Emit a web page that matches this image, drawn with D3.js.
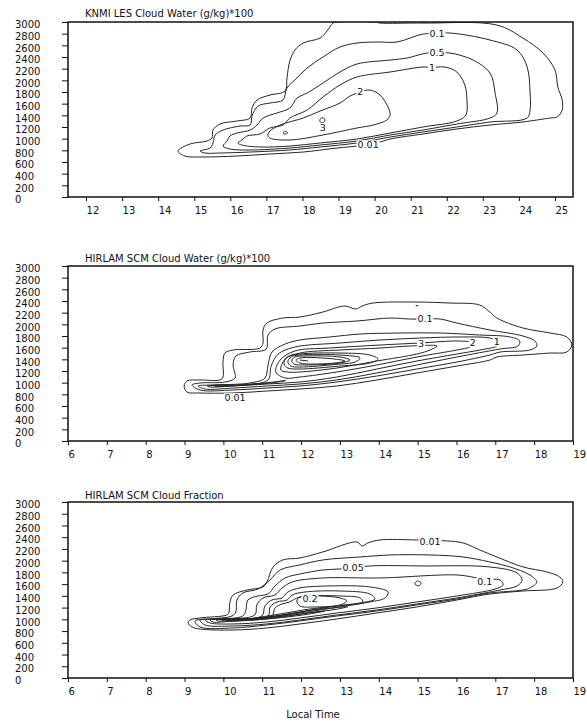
<!DOCTYPE html>
<html>
<head>
<meta charset="utf-8">
<script src="https://cdn.jsdelivr.net/npm/d3@7"></script>
<style>
body { margin: 0; background: #fff; }
svg { display: block; }
text { font-family: "DejaVu Sans", sans-serif; fill: #111; }
</style>
</head>
<body>
<svg id="chart" width="587" height="722"></svg>
<script>
// ---- tick labels ----
var y_ticks = [0, 200, 400, 600, 800, 1000, 1200, 1400, 1600, 1800, 2000, 2200, 2400, 2600, 2800, 3000];
var x_ticks_les = [12, 13, 14, 15, 16, 17, 18, 19, 20, 21, 22, 23, 24, 25];
var x_ticks_scm = [6, 7, 8, 9, 10, 11, 12, 13, 14, 15, 16, 17, 18, 19];
var titles = ["KNMI LES Cloud Water (g/kg)*100", "HIRLAM SCM Cloud Water (g/kg)*100", "HIRLAM SCM Cloud Fraction"];

// ---- KNMI LES cloud water, contours as [local time, height m] ----
var les_001 = [[14.55,789],[14.88,908],[15.35,960],[15.49,1011],[15.52,1148],[15.71,1251],[16.19,1303],[16.55,1354],[16.60,1525],[16.74,1663],[17.10,1748],[17.52,1817],[17.57,2040],[17.65,2331],[17.79,2519],[18.02,2640],[18.49,2725],[18.68,2845],[18.85,2982],[18.96,3000],[20.00,3000],[20.15,2982],[21.34,2982],[23.39,2948],[24.11,2725],[24.67,2468],[25.00,2177],[25.08,1885],[25.20,1663],[25.20,1491],[25.06,1371],[24.86,1354],[24.11,1286],[23.20,1234],[22.28,1166],[21.34,1080],[20.43,994],[20.15,943],[19.51,874],[18.96,840],[18.02,771],[17.10,737],[16.19,703],[15.24,686],[14.74,703]];
var les_01 = [[15.16,789],[15.44,840],[15.52,926],[15.58,1063],[15.80,1148],[16.27,1217],[16.55,1234],[16.60,1388],[16.77,1560],[17.10,1611],[17.46,1663],[17.57,1868],[17.79,2005],[18.13,2211],[18.57,2400],[19.04,2571],[19.51,2640],[20.07,2657],[20.62,2657],[21.34,2794],[21.73,2800],[22.09,2811],[23.20,2691],[23.95,2519],[24.23,2228],[24.31,1783],[24.31,1491],[24.23,1354],[23.20,1286],[22.28,1200],[21.34,1114],[20.43,1028],[19.51,926],[18.49,857],[17.65,806],[16.55,771],[15.71,754],[15.30,754]];
var les_05 = [[15.80,874],[15.91,960],[15.99,1046],[16.19,1097],[16.55,1148],[16.74,1234],[16.91,1354],[17.29,1440],[17.65,1525],[17.85,1697],[18.13,1783],[18.57,1954],[19.04,2143],[19.51,2280],[20.43,2348],[20.90,2383],[21.45,2468],[21.73,2468],[22.09,2468],[22.73,2348],[23.20,2125],[23.34,1783],[23.39,1440],[23.20,1354],[22.28,1251],[21.34,1148],[20.43,1063],[19.51,960],[18.49,891],[17.65,840],[16.55,806],[15.99,823]];
var les_1 = [[16.21,926],[16.32,977],[16.46,1046],[16.82,1080],[17.10,1183],[17.46,1234],[17.65,1354],[18.13,1491],[18.57,1714],[19.04,1920],[19.51,2057],[20.43,2143],[21.34,2228],[21.59,2220],[21.95,2228],[22.28,2143],[22.50,1920],[22.56,1663],[22.53,1405],[22.28,1303],[21.34,1200],[20.43,1097],[19.51,994],[18.49,926],[17.65,874],[16.82,857],[16.32,891]];
var les_2 = [[17.04,1063],[17.10,1131],[17.38,1234],[18.02,1354],[18.49,1474],[19.04,1611],[19.32,1731],[19.60,1800],[19.87,1834],[20.15,1748],[20.37,1543],[20.43,1405],[20.34,1320],[19.96,1234],[19.51,1183],[18.57,1063],[17.65,977],[17.10,1011]];
var les_3a = [[18.48,1300],[18.51,1350],[18.59,1355],[18.62,1305],[18.56,1270]];
var les_3b = [[17.46,1097],[17.52,1125],[17.59,1100],[17.52,1078]];
var les_labels = [["0.1",21.73,2794],["0.5",21.73,2468],["1",21.59,2211],["2",19.60,1800],["3",18.56,1190],["0.01",19.82,891]];

// ---- HIRLAM SCM cloud water ----
var cw_001 = [[18.97,1645],[18.84,1783],[18.41,1851],[17.71,1937],[17.04,2108],[16.86,2211],[16.60,2331],[15.83,2365],[14.98,2382],[13.85,2365],[13.57,2314],[13.41,2262],[13.13,2314],[12.56,2211],[11.97,2125],[11.53,2108],[11.12,2022],[11.02,1903],[11.02,1680],[10.94,1594],[10.25,1560],[10.04,1508],[9.99,1354],[9.99,1097],[9.91,1046],[9.40,1046],[9.06,1028],[8.99,943],[9.06,840],[9.40,823],[10.25,823],[11.12,857],[11.97,891],[12.92,943],[13.95,1046],[14.98,1166],[16.01,1285],[16.86,1388],[17.04,1440],[17.71,1474],[18.41,1508],[18.84,1525]];
var cw_01 = [[9.19,960],[9.40,994],[10.04,1011],[10.30,1080],[10.25,1303],[10.32,1457],[10.68,1525],[11.10,1577],[11.15,1817],[11.33,1920],[11.97,1971],[12.56,2022],[13.44,2057],[14.29,2108],[14.80,2091],[15.19,2091],[15.58,2091],[16.01,2022],[16.86,1903],[17.71,1800],[18.02,1714],[18.07,1628],[17.89,1560],[17.12,1525],[16.86,1474],[16.01,1354],[14.98,1234],[13.95,1114],[12.92,1011],[11.97,943],[11.12,908],[10.25,874],[9.40,874]];
var cw_05 = [[9.35,943],[9.66,960],[10.68,994],[11.07,1080],[11.15,1303],[11.25,1525],[11.59,1663],[11.97,1731],[12.74,1783],[13.52,1834],[14.55,1851],[15.58,1851],[16.60,1817],[17.38,1783],[17.63,1714],[17.58,1628],[17.12,1577],[16.01,1440],[14.98,1303],[13.95,1166],[12.92,1046],[11.97,977],[11.12,943],[10.25,908],[9.53,891]];
var cw_1 = [[9.58,943],[10.43,960],[11.15,1046],[11.23,1285],[11.41,1491],[11.84,1611],[13.00,1680],[14.03,1731],[15.06,1765],[16.09,1783],[16.86,1765],[17.12,1697],[17.04,1628],[16.60,1560],[16.01,1491],[14.98,1371],[13.95,1234],[12.92,1097],[11.97,1011],[11.12,977],[10.25,943],[9.66,926]];
var cw_2 = [[11.35,1183],[11.46,1388],[11.84,1543],[12.74,1594],[14.03,1645],[15.06,1680],[16.09,1714],[16.50,1680],[16.35,1611],[16.01,1560],[14.98,1440],[13.95,1303],[12.92,1183],[11.97,1097],[11.59,1080]];
var cw_3 = [[11.48,1217],[11.59,1405],[11.97,1508],[13.00,1560],[14.03,1594],[14.80,1628],[15.50,1628],[15.32,1560],[14.98,1491],[13.95,1371],[12.92,1251],[11.97,1183],[11.64,1183]];
var cw_4 = [[11.56,1320],[11.64,1440],[11.97,1491],[13.00,1508],[13.77,1474],[13.98,1405],[13.77,1337],[13.00,1285],[11.97,1234],[11.66,1251]];
var cw_5 = [[11.66,1354],[11.74,1440],[11.97,1474],[13.00,1474],[13.52,1423],[13.39,1354],[13.00,1320],[11.97,1268],[11.74,1285]];
var cw_6 = [[11.76,1371],[11.84,1440],[12.10,1457],[13.00,1440],[13.26,1388],[13.00,1337],[12.10,1303],[11.82,1320]];
var cw_7 = [[11.87,1388],[11.97,1423],[12.87,1405],[13.13,1371],[12.87,1337],[11.97,1337]];
var cw_lobe = [[9.75,950],[10.40,965],[11.00,990],[11.60,1035],[11.30,1000],[10.60,962],[9.80,938]];
var cw_core = [[11.97,1388],[12.18,1371]];
var cw_dot = [[14.95,2320],[15.02,2320]];
var cw_labels = [["0.1",15.19,2091],["3",15.09,1663],["2",16.42,1680],["1",17.04,1697],["0.01",10.30,737]];

// ---- HIRLAM SCM cloud fraction ----
var cf_001 = [[18.74,1637],[18.66,1722],[18.33,1807],[17.71,1893],[17.04,2063],[16.60,2182],[16.17,2302],[15.76,2336],[14.98,2353],[14.03,2353],[13.72,2302],[13.57,2251],[13.44,2319],[12.56,2148],[11.97,2046],[11.53,2012],[11.28,1893],[11.12,1637],[11.02,1552],[10.61,1500],[10.25,1415],[10.17,1296],[10.14,1108],[10.09,1074],[9.40,1023],[9.14,989],[9.09,938],[9.19,870],[9.40,835],[10.25,818],[11.12,853],[11.97,921],[12.92,1006],[13.95,1108],[14.98,1211],[16.01,1330],[16.86,1432],[17.71,1483],[18.59,1535]];
var cf_002 = [[9.27,972],[9.66,1006],[10.22,1057],[10.32,1125],[10.35,1330],[10.50,1449],[10.89,1517],[11.20,1671],[11.46,1841],[11.97,1927],[12.56,2012],[13.52,2063],[14.29,2097],[15.32,2097],[16.17,2063],[16.86,1978],[17.38,1893],[17.89,1756],[18.07,1637],[17.89,1535],[17.71,1500],[16.86,1449],[16.01,1347],[14.98,1245],[13.95,1142],[12.92,1057],[11.97,972],[11.12,904],[10.25,853],[9.40,870]];
var cf_005 = [[9.40,989],[9.78,1006],[10.50,1057],[10.58,1159],[10.63,1330],[10.89,1398],[11.15,1432],[11.33,1569],[11.59,1705],[11.97,1773],[12.56,1841],[13.00,1858],[13.34,1876],[13.77,1910],[15.14,1910],[16.86,1893],[17.56,1790],[17.69,1671],[17.56,1569],[17.12,1500],[16.86,1466],[16.01,1364],[14.98,1262],[13.95,1159],[12.92,1074],[11.97,989],[11.12,921],[10.25,887],[9.53,904]];
var cf_01 = [[9.53,989],[9.91,1006],[10.81,1074],[10.86,1245],[11.02,1364],[11.33,1415],[11.51,1535],[11.77,1637],[12.56,1705],[14.03,1705],[16.01,1756],[16.53,1705],[16.73,1680],[17.12,1671],[17.20,1586],[16.99,1517],[16.01,1398],[14.98,1296],[13.95,1194],[12.92,1108],[11.97,1023],[11.12,955],[10.25,921],[9.66,938]];
var cf_c5 = [[9.66,989],[10.04,1006],[10.99,1057],[11.07,1228],[11.25,1330],[11.51,1364],[11.66,1466],[11.97,1535],[12.74,1569],[13.77,1552],[14.24,1466],[14.16,1364],[13.77,1296],[13.00,1211],[11.97,1108],[11.12,1023],[10.25,972],[9.73,955]];
var cf_c6 = [[9.81,989],[10.17,1006],[11.15,1057],[11.20,1211],[11.38,1296],[11.64,1330],[11.77,1415],[12.10,1466],[13.00,1483],[13.77,1432],[13.90,1347],[13.52,1279],[12.74,1211],[11.97,1125],[11.12,1040],[10.25,989],[9.86,972]];
var cf_c7 = [[9.96,989],[10.43,1006],[11.25,1057],[11.33,1194],[11.51,1262],[11.71,1296],[11.89,1364],[12.23,1398],[13.00,1398],[13.52,1364],[13.59,1296],[13.13,1245],[12.23,1176],[11.46,1091],[10.43,989],[10.02,972]];
var cf_c8 = [[10.10,989],[10.60,1006],[11.40,1057],[12.20,1150],[12.90,1200],[13.20,1215],[12.90,1170],[12.20,1110],[11.40,1030],[10.60,980],[10.15,972]];
var cf_c9 = [[10.30,995],[10.80,1010],[11.50,1050],[12.20,1110],[12.60,1140],[12.20,1090],[11.50,1030],[10.80,990],[10.35,985]];
var cf_02 = [[11.89,1313],[11.97,1381],[12.49,1398],[13.00,1364],[13.18,1313],[13.00,1245],[12.36,1211],[11.97,1228]];
var cf_circ = [[14.93,1603],[15.00,1655],[15.09,1620],[15.03,1570]];
var cf_labels = [["0.01",15.32,2319],["0.05",13.34,1876],["0.1",16.73,1637],["0.2",12.23,1347]];

// ---- layout ----
var frame_left = 68;
var frame_right = 573;
var title_x = 85;
var y_label_x = 15;

var panels = [
  {title: titles[0], x_domain: [11.5, 25.5], x_ticks: x_ticks_les, top: 22, bottom: 197, title_y: 17,
   closed: [les_001, les_01, les_05, les_1, les_2, les_3a, les_3b], open: [], labels: les_labels},
  {title: titles[1], x_domain: [6, 19], x_ticks: x_ticks_scm, top: 266, bottom: 441, title_y: 262,
   closed: [cw_001, cw_01, cw_05, cw_1, cw_2, cw_3, cw_4, cw_5, cw_6, cw_7, cw_lobe], open: [cw_core, cw_dot], labels: cw_labels},
  {title: titles[2], x_domain: [6, 19], x_ticks: x_ticks_scm, top: 502, bottom: 678, title_y: 499,
   closed: [cf_001, cf_002, cf_005, cf_01, cf_c5, cf_c6, cf_c7, cf_c8, cf_c9, cf_02, cf_circ], open: [], labels: cf_labels}
];

var svg = d3.select("#chart");
svg.append("rect").attr("width", 587).attr("height", 722).attr("fill", "#fff");

panels.forEach(function(p, i){
  var x = d3.scaleLinear().domain(p.x_domain).range([frame_left, frame_right]);
  var y = d3.scaleLinear().domain([0, 3000]).range([p.bottom, p.top]);

  var clip_id = "clip" + i;
  svg.append("clipPath").attr("id", clip_id)
     .append("rect")
     .attr("x", frame_left).attr("y", p.top)
     .attr("width", frame_right - frame_left).attr("height", p.bottom - p.top);

  var g = svg.append("g").attr("clip-path", "url(#" + clip_id + ")");

  var closed_line = d3.line().x(function(d){ return x(d[0]); }).y(function(d){ return y(d[1]); })
      .curve(d3.curveCatmullRomClosed.alpha(0.5));
  var open_line = d3.line().x(function(d){ return x(d[0]); }).y(function(d){ return y(d[1]); });

  g.selectAll("path.closed").data(p.closed).enter().append("path")
   .attr("class", "closed")
   .attr("d", closed_line)
   .attr("fill", "none").attr("stroke", "#262626").attr("stroke-width", 1);

  g.selectAll("path.open").data(p.open).enter().append("path")
   .attr("class", "open")
   .attr("d", open_line)
   .attr("fill", "none").attr("stroke", "#262626").attr("stroke-width", 1.1);

  // contour labels, white box cuts the line
  var lab = g.selectAll("g.lab").data(p.labels).enter().append("g").attr("class", "lab");
  lab.append("rect").attr("fill", "#fff");
  lab.append("text")
     .attr("x", function(d){ return x(d[1]); })
     .attr("y", function(d){ return y(d[2]); })
     .attr("dy", "0.35em")
     .attr("text-anchor", "middle")
     .attr("font-size", 9.5)
     .text(function(d){ return d[0]; });
  lab.each(function(){
    var t = d3.select(this).select("text").node().getBBox();
    d3.select(this).select("rect")
      .attr("x", t.x - 1).attr("y", t.y + 1)
      .attr("width", t.width + 2).attr("height", t.height - 2);
  });

  // frame
  svg.append("rect")
     .attr("x", frame_left).attr("y", p.top)
     .attr("width", frame_right - frame_left).attr("height", p.bottom - p.top)
     .attr("fill", "none").attr("stroke", "#111").attr("stroke-width", 1.5);

  // y axis
  var ya = svg.append("g").attr("transform", "translate(" + frame_left + ",0)")
     .call(d3.axisLeft(y).tickValues(y_ticks).tickSize(6).tickFormat(d3.format("d")));
  ya.select(".domain").remove();
  ya.selectAll(".tick line").attr("stroke", "#111");
  ya.selectAll(".tick text")
    .attr("x", y_label_x - frame_left)
    .attr("y", 2.5)
    .attr("text-anchor", "start")
    .attr("font-size", 10)
    .attr("font-family", "DejaVu Sans, sans-serif")
    .attr("fill", "#111");

  // x axis
  var xa = svg.append("g").attr("transform", "translate(0," + p.bottom + ")")
     .call(d3.axisBottom(x).tickValues(p.x_ticks).tickSize(4).tickFormat(d3.format("d")));
  xa.select(".domain").remove();
  xa.selectAll(".tick line").attr("stroke", "#111");
  xa.selectAll(".tick text")
    .attr("x", 0)
    .attr("y", 10)
    .attr("text-anchor", "start")
    .attr("font-size", 10)
    .attr("font-family", "DejaVu Sans, sans-serif")
    .attr("fill", "#111");

  // title
  svg.append("text")
     .attr("x", title_x).attr("y", p.title_y)
     .attr("font-size", 10)
     .text(p.title);
});

svg.append("text")
   .attr("x", 313).attr("y", 718)
   .attr("text-anchor", "middle")
   .attr("font-size", 10)
   .text("Local Time");
</script>
</body>
</html>
